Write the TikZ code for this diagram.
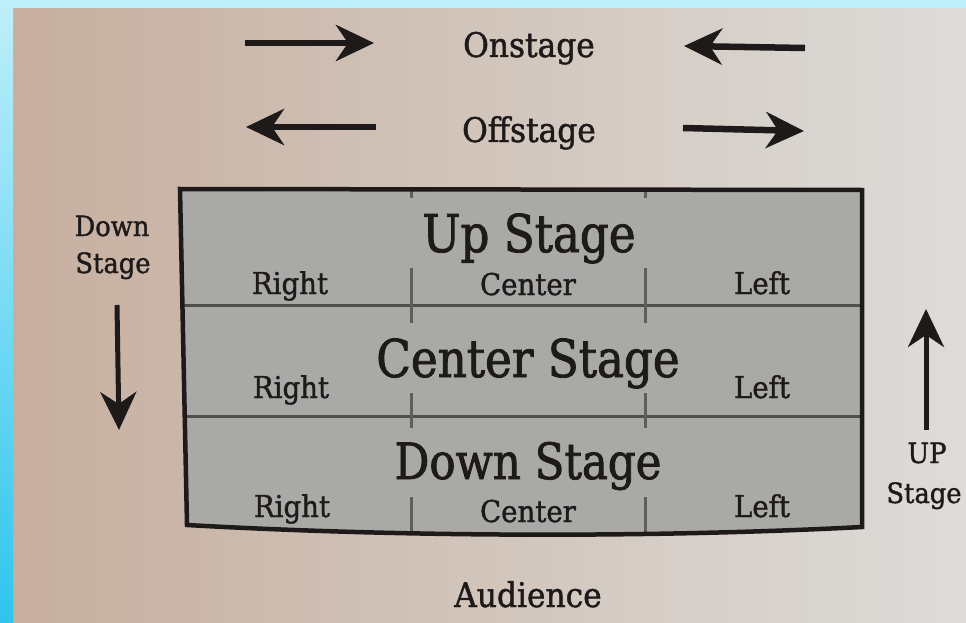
\documentclass[tikz,border=0pt]{standalone}
\usepackage{fontspec}
\setmainfont[FakeStretch=0.92,FakeBold=1.3]{DejaVu Serif}
\newfontfamily\titlefont[FakeStretch=0.87,FakeBold=1.6]{DejaVu Serif}
\usetikzlibrary{arrows.meta}
\definecolor{ink}{HTML}{1E1A1A}
\definecolor{paperL}{HTML}{C6AE9E}
\definecolor{paperM}{HTML}{D8D2CC}
\definecolor{paperR}{HTML}{DDDCD9}
\definecolor{stagegray}{HTML}{A9A9A7}
\definecolor{gridline}{HTML}{4E4E4C}
\definecolor{tickgray}{HTML}{5E5E5C}
\definecolor{blueT}{HTML}{BFEFFA}
\definecolor{blueB}{HTML}{2EC5EF}
\tikzset{
  lbl/.style={font=\fontsize{30}{36}\selectfont, text=ink, anchor=base, inner sep=0pt},
  side/.style={font=\fontsize{28}{34}\selectfont, text=ink, anchor=base, inner sep=0pt},
  top/.style={font=\fontsize{34}{40}\selectfont, text=ink, anchor=base, inner sep=0pt},
  ttl/.style={font=\titlefont\fontsize{52}{60}\selectfont, text=ink, anchor=base, inner sep=0pt},
  bigarrow/.style={line width=6.5pt, draw=ink, -{Stealth[length=38pt,width=36pt,inset=12pt]}},
  grid/.style={line width=3pt, draw=gridline},
  tick/.style={line width=3pt, draw=tickgray},
}
\begin{document}
\begin{tikzpicture}[x=1pt,y=-1pt]
\useasboundingbox (0,0) rectangle (966,623);
% paper
\shade[left color=paperL, middle color=paperM, right color=paperR] (0,0) rectangle (966,623);
% blue frame
\fill[blueT] (0,0) rectangle (966,8);
\shade[top color=blueT, bottom color=blueB] (0,0) rectangle (13,623);

% stage box
\coordinate (TL) at (180,189);
\coordinate (TR) at (862,190);
\coordinate (BR) at (862,527);
\coordinate (BL) at (187,525);
\fill[stagegray] (TL) -- (TR) -- (BR) .. controls (650,538) and (400,537) .. (BL) -- cycle;
% grid lines
\coordinate (L1a) at (182,305); \coordinate (L1b) at (862,305);
\coordinate (L2a) at (185,416); \coordinate (L2b) at (862,416);
\draw[grid] (L1a) -- (L1b);
\draw[grid] (L2a) -- (L2b);
% ticks
\foreach \x in {411,645}{
  \coordinate (ta) at (\x,190); \coordinate (tb) at (\x,198);
  \draw[tick] (ta) -- (tb);
  \coordinate (ta) at (\x,268); \coordinate (tb) at (\x,323);
  \draw[tick] (ta) -- (tb);
  \coordinate (ta) at (\x,393); \coordinate (tb) at (\x,428);
  \draw[tick] (ta) -- (tb);
  \coordinate (ta) at (\x,497); \coordinate (tb) at (\x,534);
  \draw[tick] (ta) -- (tb);
}
\draw[line width=4.5pt, draw=ink, line join=miter] (TL) -- (TR) -- (BR) .. controls (650,538) and (400,537) .. (BL) -- cycle;

% titles
\node[ttl] (up) at (529,252) {Up Stage};
\node[ttl] (cs) at (528,377) {Center Stage};
\node[ttl, font=\titlefont\fontsize{50}{58}\selectfont] (ds) at (528,479) {Down Stage};
% row labels
\node[lbl] (r1) at (290,294) {Right};
\node[lbl] (c1) at (528,295) {Center};
\node[lbl] (l1) at (762,294) {Left};
\node[lbl] (r2) at (291,398) {Right};
\node[lbl] (l2) at (762,398) {Left};
\node[lbl] (r3) at (292,517) {Right};
\node[lbl] (c3) at (528,522) {Center};
\node[lbl] (l3) at (762,517) {Left};

% top texts
\node[top] (on) at (529,57) {Onstage};
\node[top] (off) at (529,142) {Offstage};
\node[top] (aud) at (528,607) {Audience};

% side texts
\node[side] (dn1) at (112,236) {Down};
\node[side] (dn2) at (113,273) {Stage};
\node[side] (up1) at (927,463) {UP};
\node[side] (up2) at (924,503) {Stage};

% arrows
\coordinate (a1s) at (245,43);  \coordinate (a1e) at (374,43);
\coordinate (a2s) at (805,48);  \coordinate (a2e) at (684,46);
\coordinate (a3s) at (376,127); \coordinate (a3e) at (246,127);
\coordinate (a4s) at (683,128); \coordinate (a4e) at (804,131);
\coordinate (a5s) at (117,305); \coordinate (a5e) at (119,430);
\coordinate (a6s) at (926,430); \coordinate (a6e) at (926,309);
\draw[bigarrow] (a1s) -- (a1e);
\draw[bigarrow] (a2s) -- (a2e);
\draw[bigarrow] (a3s) -- (a3e);
\draw[bigarrow] (a4s) -- (a4e);
\draw[bigarrow, line width=5pt] (a5s) -- (a5e);
\draw[bigarrow, line width=5pt] (a6s) -- (a6e);
\end{tikzpicture}
\end{document}
